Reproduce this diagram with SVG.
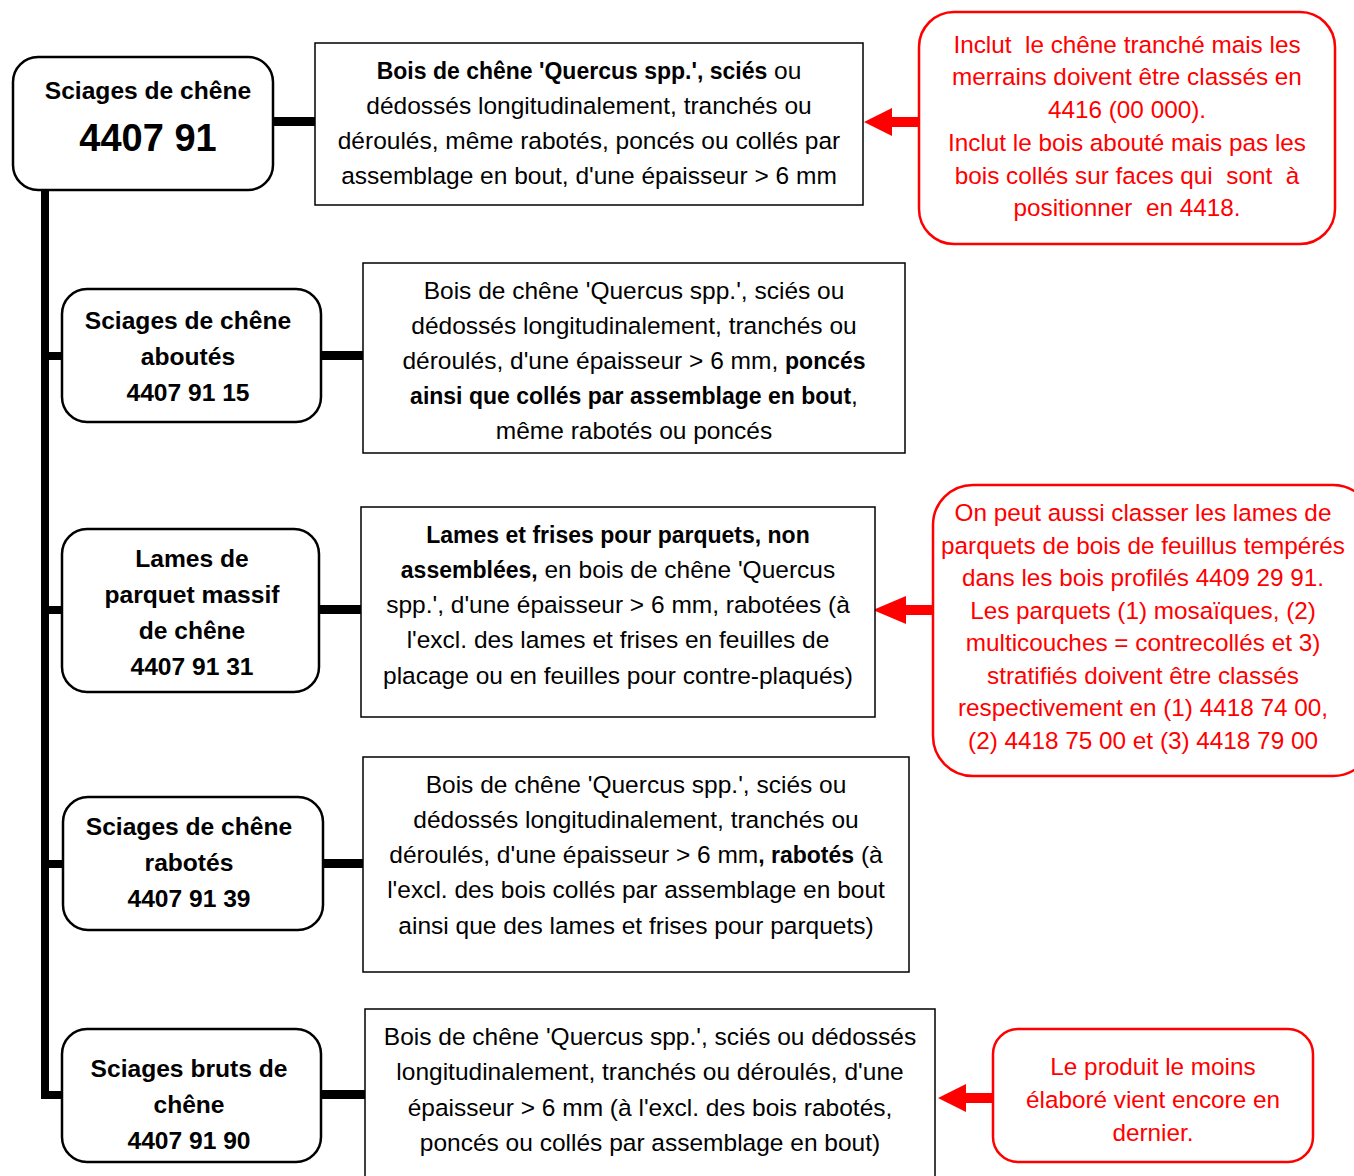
<svg xmlns="http://www.w3.org/2000/svg" width="1354" height="1176" viewBox="0 0 1354 1176">
<style>
.node{fill:#fff;stroke:#000;stroke-width:2.5}
.desc{fill:#fff;stroke:#000;stroke-width:1.5}
.note{fill:#fff;stroke:#f00;stroke-width:2.5}
.nt{font-family:"Liberation Sans",Arial,sans-serif;font-weight:bold;font-size:24.6px;fill:#000;text-anchor:middle}
.dt{font-family:"Liberation Sans",Arial,sans-serif;font-size:24.5px;fill:#000;text-anchor:middle}
.rt{font-family:"Liberation Sans",Arial,sans-serif;font-size:24.3px;fill:#f00;text-anchor:middle;white-space:pre}
.b{font-weight:bold;font-size:23px}
.arr{fill:#f00}
</style>
<g id="connectors" fill="#000">
<rect x="41" y="189" width="8" height="910"/>
<rect x="41" y="352" width="22" height="8"/>
<rect x="41" y="606" width="22" height="8"/>
<rect x="41" y="860" width="22" height="8"/>
<rect x="41" y="1091" width="22" height="8"/>
<rect x="273" y="117" width="42" height="9"/>
<rect x="321" y="351" width="42" height="9"/>
<rect x="319" y="605" width="42" height="9"/>
<rect x="323" y="859" width="40" height="9"/>
<rect x="321" y="1090" width="44" height="9"/>
<polygon class="arr" points="919,117 892,117 892,108 864,122 892,136 892,127 919,127"/>
<polygon class="arr" points="933,605 906,605 906,596 873,610 906,624 906,615 933,615"/>
<polygon class="arr" points="993,1093 966,1093 966,1084 938,1098 966,1112 966,1103 993,1103"/>
</g>
<g id="node1">
<rect class="node" x="13" y="57" width="260" height="133" rx="25"/>
<text class="nt" x="148" y="99">Sciages de chêne</text>
<text class="nt" x="148" y="151" style="font-size:38px">4407 91</text>
</g>
<g id="node2">
<rect class="node" x="62" y="289" width="259" height="133" rx="25"/>
<text class="nt" x="188" y="329">Sciages de chêne</text>
<text class="nt" x="188" y="365">aboutés</text>
<text class="nt" x="188" y="401">4407 91 15</text>
</g>
<g id="node3">
<rect class="node" x="62" y="529" width="257" height="163" rx="25"/>
<text class="nt" x="192" y="567">Lames de</text>
<text class="nt" x="192" y="603">parquet massif</text>
<text class="nt" x="192" y="639">de chêne</text>
<text class="nt" x="192" y="675">4407 91 31</text>
</g>
<g id="node4">
<rect class="node" x="63" y="797" width="260" height="133" rx="25"/>
<text class="nt" x="189" y="835">Sciages de chêne</text>
<text class="nt" x="189" y="871">rabotés</text>
<text class="nt" x="189" y="907">4407 91 39</text>
</g>
<g id="node5">
<rect class="node" x="62" y="1029" width="259" height="133" rx="25"/>
<text class="nt" x="189" y="1077">Sciages bruts de</text>
<text class="nt" x="189" y="1113">chêne</text>
<text class="nt" x="189" y="1149">4407 91 90</text>
</g>
<g id="descA">
<rect class="desc" x="315" y="43" width="548" height="162"/>
<text class="dt" x="589" y="79"><tspan class="b">Bois de chêne 'Quercus spp.', sciés</tspan> ou</text>
<text class="dt" x="589" y="114">dédossés longitudinalement, tranchés ou</text>
<text class="dt" x="589" y="149">déroulés, même rabotés, poncés ou collés par</text>
<text class="dt" x="589" y="184">assemblage en bout, d'une épaisseur &gt; 6 mm</text>
</g>
<g id="descB">
<rect class="desc" x="363" y="263" width="542" height="190"/>
<text class="dt" x="634" y="299">Bois de chêne 'Quercus spp.', sciés ou</text>
<text class="dt" x="634" y="334">dédossés longitudinalement, tranchés ou</text>
<text class="dt" x="634" y="369">déroulés, d'une épaisseur &gt; 6 mm, <tspan class="b">poncés</tspan></text>
<text class="dt" x="634" y="404"><tspan class="b">ainsi que collés par assemblage en bout</tspan>,</text>
<text class="dt" x="634" y="439">même rabotés ou poncés</text>
</g>
<g id="descC">
<rect class="desc" x="361" y="507" width="514" height="210"/>
<text class="dt" x="618" y="543"><tspan class="b">Lames et frises pour parquets, non</tspan></text>
<text class="dt" x="618" y="578"><tspan class="b">assemblées,</tspan> en bois de chêne 'Quercus</text>
<text class="dt" x="618" y="613">spp.', d'une épaisseur &gt; 6 mm, rabotées (à</text>
<text class="dt" x="618" y="648">l'excl. des lames et frises en feuilles de</text>
<text class="dt" x="618" y="684">placage ou en feuilles pour contre-plaqués)</text>
</g>
<g id="descD">
<rect class="desc" x="363" y="757" width="546" height="215"/>
<text class="dt" x="636" y="793">Bois de chêne 'Quercus spp.', sciés ou</text>
<text class="dt" x="636" y="828">dédossés longitudinalement, tranchés ou</text>
<text class="dt" x="636" y="863">déroulés, d'une épaisseur &gt; 6 mm<tspan class="b">, rabotés</tspan> (à</text>
<text class="dt" x="636" y="898">l'excl. des bois collés par assemblage en bout</text>
<text class="dt" x="636" y="934">ainsi que des lames et frises pour parquets)</text>
</g>
<g id="descE">
<rect class="desc" x="365" y="1009" width="570" height="180"/>
<text class="dt" x="650" y="1045">Bois de chêne 'Quercus spp.', sciés ou dédossés</text>
<text class="dt" x="650" y="1080">longitudinalement, tranchés ou déroulés, d'une</text>
<text class="dt" x="650" y="1116">épaisseur &gt; 6 mm (à l'excl. des bois rabotés,</text>
<text class="dt" x="650" y="1151">poncés ou collés par assemblage en bout)</text>
</g>
<g id="note1">
<rect class="note" x="919" y="12" width="416" height="232" rx="35"/>
<text class="rt" x="1127" y="53">Inclut  le chêne tranché mais les</text>
<text class="rt" x="1127" y="85">merrains doivent être classés en</text>
<text class="rt" x="1127" y="118">4416 (00 000).</text>
<text class="rt" x="1127" y="151">Inclut le bois abouté mais pas les</text>
<text class="rt" x="1127" y="184">bois collés sur faces qui  sont  à</text>
<text class="rt" x="1127" y="216">positionner  en 4418.</text>
</g>
<g id="note2">
<rect class="note" x="933" y="485" width="440" height="291" rx="40"/>
<text class="rt" x="1143" y="521">On peut aussi classer les lames de</text>
<text class="rt" x="1143" y="554">parquets de bois de feuillus tempérés</text>
<text class="rt" x="1143" y="586">dans les bois profilés 4409 29 91.</text>
<text class="rt" x="1143" y="619">Les parquets (1) mosaïques, (2)</text>
<text class="rt" x="1143" y="651">multicouches = contrecollés et 3)</text>
<text class="rt" x="1143" y="684">stratifiés doivent être classés</text>
<text class="rt" x="1143" y="716">respectivement en (1) 4418 74 00,</text>
<text class="rt" x="1143" y="749">(2) 4418 75 00 et (3) 4418 79 00</text>
</g>
<g id="note3">
<rect class="note" x="993" y="1029" width="320" height="133" rx="25"/>
<text class="rt" x="1153" y="1075">Le produit le moins</text>
<text class="rt" x="1153" y="1108">élaboré vient encore en</text>
<text class="rt" x="1153" y="1141">dernier.</text>
</g>
</svg>
